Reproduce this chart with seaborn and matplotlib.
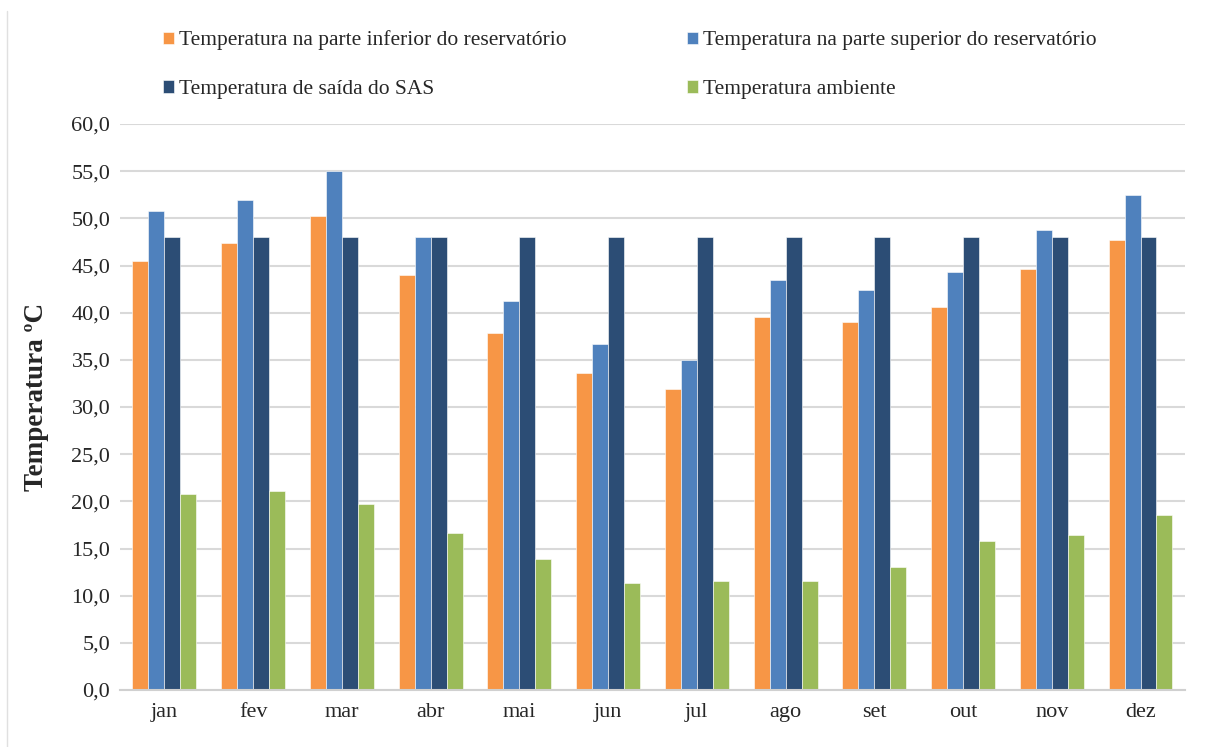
import pandas as pd
import numpy as np
import matplotlib.pyplot as plt
import seaborn as sns
from matplotlib.ticker import FuncFormatter
from matplotlib.lines import Line2D

# Data
meses = ['jan', 'fev', 'mar', 'abr', 'mai', 'jun', 'jul', 'ago', 'set', 'out', 'nov', 'dez']
t_inferior = [45.5, 47.4, 50.2, 44.0, 37.8, 33.6, 31.9, 39.5, 39.0, 40.6, 44.6, 47.7]
t_superior = [50.8, 51.9, 55.0, 48.0, 41.2, 36.7, 35.0, 43.5, 42.4, 44.3, 48.8, 52.5]
t_saida = [48.0, 48.0, 48.0, 48.0, 48.0, 48.0, 48.0, 48.0, 48.0, 48.0, 48.0, 48.0]
t_ambiente = [20.8, 21.1, 19.7, 16.6, 13.9, 11.3, 11.6, 11.6, 13.0, 15.8, 16.4, 18.6]

series = ['Temperatura na parte inferior do reservatório',
          'Temperatura na parte superior do reservatório',
          'Temperatura de saída do SAS',
          'Temperatura ambiente']
cores = ['#F79646', '#4F81BD', '#2C4D75', '#9BBB59']

df = pd.DataFrame({
    'mes': meses * 4,
    'serie': np.repeat(series, len(meses)),
    'valor': t_inferior + t_superior + t_saida + t_ambiente,
})

sns.set_style('white')
plt.rcParams['font.family'] = ['Liberation Serif', 'DejaVu Serif']

fig = plt.figure(figsize=(12.06, 7.47), dpi=100)
ax = fig.add_axes([0.0995, 0.0763, 0.883, 0.7577])

sns.barplot(data=df, x='mes', y='valor', hue='serie', hue_order=series,
            palette=cores, width=0.72, gap=0, saturation=1,
            edgecolor='white', linewidth=0.4, ax=ax)

ax.set_ylim(0, 60)
ax.set_yticks(np.arange(0, 61, 5))
ax.yaxis.set_major_formatter(FuncFormatter(lambda v, p: f'{v:.1f}'.replace('.', ',')))
ax.grid(axis='y', color='#D9D9D9', linewidth=1.5)
ax.set_axisbelow(True)
for s in ['top', 'right', 'left']:
    ax.spines[s].set_visible(False)
ax.spines['bottom'].set_color('#D0D0D0')
ax.spines['bottom'].set_linewidth(1.5)
ax.tick_params(axis='y', labelsize=16, length=0, pad=7)
ax.tick_params(axis='x', labelsize=16, length=0, pad=9)
ax.set_xlabel('')
ax.set_ylabel('Temperatura ºC', fontsize=19.5, fontweight='bold')
ax.yaxis.set_label_coords(-0.067, 0.518)

# legend in row order: two rows, two columns
handles, labels = ax.get_legend_handles_labels()
ax.get_legend().remove()
order = [0, 2, 1, 3]
fig.legend([handles[i] for i in order], [labels[i] for i in order],
           ncol=2, loc='upper left', bbox_to_anchor=(0.119, 0.985),
           frameon=False, fontsize=15.5, handlelength=0.5, handleheight=0.5,
           handletextpad=0.25, columnspacing=5.6, labelspacing=1.38)

# faint chart border on the left
fig.add_artist(Line2D([0.006, 0.006], [0.0, 0.985], transform=fig.transFigure,
                      color='#E0E0E0', linewidth=1))

plt.savefig('out.png', dpi=100)
